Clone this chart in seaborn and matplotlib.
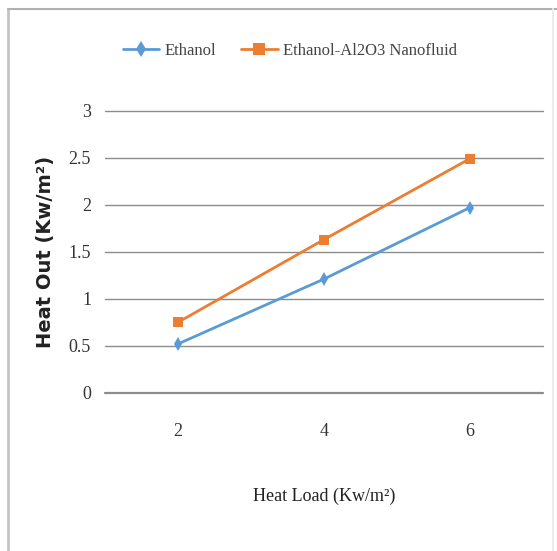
import matplotlib
matplotlib.use("Agg")
import matplotlib.pyplot as plt
import seaborn as sns
import pandas as pd
from matplotlib.lines import Line2D

heat_load = [2, 4, 6]
ethanol = [0.52, 1.21, 1.97]
nanofluid = [0.75, 1.63, 2.49]
series_names = ["Ethanol", "Ethanol-Al2O3 Nanofluid"]
y_ticks = [0, 0.5, 1, 1.5, 2, 2.5, 3]
y_tick_labels = ["0", "0.5", "1", "1.5", "2", "2.5", "3"]

df = pd.DataFrame({
    "x": heat_load * 2,
    "y": ethanol + nanofluid,
    "series": [series_names[0]] * 3 + [series_names[1]] * 3,
})

sns.set_theme(style="white")
plt.rcParams["font.family"] = ["Liberation Serif", "DejaVu Serif"]

fig = plt.figure(figsize=(5.57, 5.51), dpi=100)
ax = fig.add_axes([0.1885, 0.287, 0.786, 0.512])

palette = {series_names[0]: "#5B9BD5", series_names[1]: "#ED7D31"}
markers = {series_names[0]: "d", series_names[1]: "s"}
sns.lineplot(data=df, x="x", y="y", hue="series", style="series",
             palette=palette, markers=markers, dashes=False,
             linewidth=2, markersize=7, markeredgewidth=0, ax=ax, legend=False)

ax.set_xlim(1, 7)
ax.set_ylim(0, 3)
ax.set_xticks(heat_load)
ax.set_xticklabels([str(v) for v in heat_load], fontsize=13, color="#333333")
ax.set_yticks(y_ticks)
ax.set_yticklabels(y_tick_labels, fontsize=13, color="#333333")
ax.tick_params(axis="both", length=0, pad=10)
ax.tick_params(axis="x", pad=22)
ax.grid(axis="y", color="#8c8c8c", linewidth=1)
ax.grid(axis="x", visible=False)
for gl in ax.get_ygridlines():
    gl.set_clip_on(False)
ax.get_ygridlines()[0].set_linewidth(1.6)
for s in ax.spines.values():
    s.set_visible(False)
ax.set_axisbelow(True)

ax.set_xlabel("Heat Load (Kw/m²)", fontsize=13, color="#222222", labelpad=34)
ax.set_ylabel("Heat Out (Kw/m²)", fontsize=14, fontweight="bold",
              family=["DejaVu Sans"], color="#222222", labelpad=10)

handles = [Line2D([], [], color=palette[n], marker=markers[n], markersize=8,
                  markeredgewidth=0, linewidth=2) for n in series_names]
fig.legend(handles, series_names, loc="center", bbox_to_anchor=(0.52, 0.907),
           ncol=2, frameon=False, fontsize=12, handlelength=2.2,
           columnspacing=1.5, handletextpad=0.3, labelcolor="#444444")

# chart border (top, left, faint right)
fig.add_artist(Line2D([0.0145, 0.0145], [0.0, 0.984], transform=fig.transFigure,
                      color="#c4c4c4", linewidth=2))
fig.add_artist(Line2D([0.0145, 1.0], [0.984, 0.984], transform=fig.transFigure,
                      color="#b0b0b0", linewidth=1.5))
fig.add_artist(Line2D([0.993, 0.993], [0.0, 0.984], transform=fig.transFigure,
                      color="#ececec", linewidth=1.5))

fig.savefig("out.png", dpi=100)
